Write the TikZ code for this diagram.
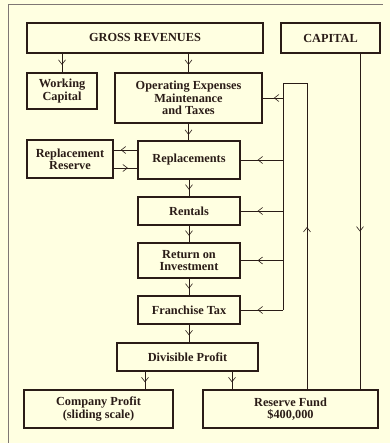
\documentclass[tikz,border=0pt]{standalone}
\usepackage{fontspec}
\setmainfont{Liberation Serif}
\usepackage{tikz}
\usetikzlibrary{arrows.meta, positioning, calc, decorations.markings}

\definecolor{paper}{HTML}{FFFFE1}
\definecolor{ink}{HTML}{2A1C17}

\tikzset{
  box/.style={draw=ink, line width=1.4pt, align=center, inner sep=1pt,
              font=\fontsize{12.3}{12.3}\selectfont\bfseries, text=ink},
  flow/.style={ink, line width=0.6pt, postaction={decorate},
               decoration={markings, mark=at position #1 with
               {\arrow{Straight Barb[length=4.5pt, width=7pt, line width=0.6pt]}}}},
  flow/.default=0.6,
  link/.style={ink, line width=0.6pt}
}

\begin{document}
\begin{tikzpicture}[x=1pt, y=-1pt]
  % Papier
  \fill[paper] (0,0) rectangle (390,443);
  \useasboundingbox (0,0) rectangle (390,443);
  \draw[ink!60, line width=0.6pt] (8,443) -- (8,4) -- (383,4);
  % Caixas
  \node[box, minimum width=236pt, minimum height=30pt] (gross) at (145,38) {GROSS REVENUES};
  \node[box, minimum width=99pt, minimum height=30pt] (capital) at (330.5,38) {CAPITAL};
  \node[box, minimum width=70pt, minimum height=36pt] (working) at (62,91) {Working\\Capital};
  \node[box, minimum width=147pt, minimum height=50pt] (opex) at (188.5,98) {Operating Expenses\\Maintenance\\and Taxes};
  \node[box, minimum width=86pt, minimum height=38pt] (reserve) at (70,159) {Replacement\\Reserve};
  \node[box, minimum width=102pt, minimum height=38pt] (replace) at (189,160) {Replacements};
  \node[box, minimum width=102pt, minimum height=28pt] (rentals) at (189,211) {Rentals};
  \node[box, minimum width=102pt, minimum height=35pt] (roi) at (189,260.5) {Return on\\Investment};
  \node[box, minimum width=102pt, minimum height=28pt] (ftax) at (189,310) {Franchise Tax};
  \node[box, minimum width=141pt, minimum height=28pt] (divis) at (187.5,357) {Divisible Profit};
  \node[box, minimum width=149pt, minimum height=38pt] (company) at (98.5,409) {Company Profit\\(sliding scale)};
  \node[box, minimum width=175pt, minimum height=38pt] (fund) at (290.5,409) {Reserve Fund\\\$400,000};
  % Fluxo principal
  \draw[flow] (working.north |- gross.south) -- (working.north);
  \draw[flow] (gross.south -| opex.north) -- (opex.north);
  \draw[flow=0.67] (opex.south) -- (opex.south |- replace.north);
  \draw[flow] (replace) -- (rentals);
  \draw[flow] (rentals) -- (roi);
  \draw[flow] (roi) -- (ftax);
  \draw[flow] (ftax.south) -- (ftax.south |- divis.north);
  \draw[flow] ([xshift=-42.5pt]divis.south) -- ([xshift=-42.5pt]divis.south |- company.north);
  \draw[flow] ([xshift=44.5pt]divis.south) -- ([xshift=44.5pt]divis.south |- fund.north);
  % Reserva de reposicao
  \draw[flow=0.7] ([yshift=10pt]replace.west) -- ([yshift=10pt]replace.west -| reserve.east);
  \draw[flow] ([yshift=-9pt]reserve.east -| reserve.east) -- ([yshift=-9pt]reserve.east -| replace.west);
  % Retorno do fundo de reserva
  \coordinate (lt) at (283,83);
  \coordinate (rt) at (307,83);
  \draw[flow=0.53] (rt |- fund.north) -- (rt);
  \draw[link] (rt) -- (lt) -- (lt |- ftax);
  \draw[flow=0.45] (lt |- opex) -- (opex.east);
  \draw[flow] (lt |- replace) -- (replace.east);
  \draw[flow] (lt |- rentals) -- (rentals.east);
  \draw[flow] (lt |- roi) -- (roi.east);
  \draw[flow] (lt |- ftax) -- (ftax.east);
  % Capital
  \coordinate (cap) at ([xshift=29.5pt]capital.south);
  \draw[flow=0.53] (cap) -- (cap |- fund.north);
\end{tikzpicture}
\end{document}
